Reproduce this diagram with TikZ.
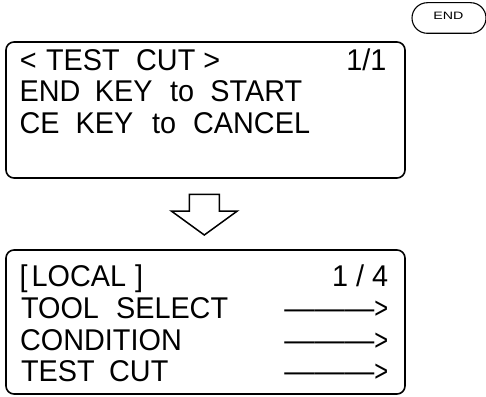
\documentclass[tikz,border=0pt]{standalone}
\usepackage{fontspec}
\setmainfont{Liberation Sans}
\usepackage{graphicx}
\newcommand{\lcdat}[2]{\makebox[0pt][l]{\hspace*{#1pt}\scalebox{0.96}[1]{#2}}}
\begin{document}
\begin{tikzpicture}[x=1pt,y=-1pt,
  panel/.style={draw, line width=1.6pt, rounded corners=8pt, inner sep=0pt},
  lcd/.style={inner sep=0pt, font=\fontsize{30}{36}\selectfont, anchor=base west},
  lcdr/.style={inner sep=0pt, font=\fontsize{30}{36}\selectfont, anchor=base east},
  keycap/.style={draw, line width=1.1pt, rounded corners=15.3pt, inner sep=0pt, minimum width=74pt, minimum height=30.6pt},
  bigarrow/.style={draw, line width=1.5pt, line join=miter}]
\useasboundingbox (0,0) rectangle (486,396);
\node[keycap] (endkey) at (449,18) {};
\node[inner sep=0pt, anchor=base] (endlbl) at (448.3,20) {\scalebox{1.33}[1]{\fontsize{10.7}{12}\selectfont END}};
\node[panel, minimum width=399pt, minimum height=136pt] (top) at (205.5,110) {};
\node[panel, minimum width=399pt, minimum height=144pt] (bottom) at (205.5,322) {};
% top panel text
\node[lcd] (t1) at (0,70) {\lcdat{19.3}{<}\lcdat{45.4}{TEST}\lcdat{135.5}{CUT}\lcdat{202.6}{>}};
\node[lcdr] (t1r) at (386.7,70) {\scalebox{0.96}[1]{1/1}};
\node[lcd] (t2) at (0,101.7) {\lcdat{19}{END}\lcdat{94.2}{KEY}\lcdat{169.5}{to}\lcdat{209.7}{START}};
\node[lcd] (t3) at (0,133.3) {\lcdat{19}{CE}\lcdat{75}{KEY}\lcdat{151.5}{to}\lcdat{192.5}{CANCEL}};
% bottom panel text
\node[lcd] (b1) at (0,286.7) {\lcdat{19}{[}\lcdat{31}{LOCAL}\lcdat{134.5}{]}};
\node[lcdr] (b1r) at (388.3,286.7) {\scalebox{0.96}[1]{1 / 4}};
\node[lcd] (b2) at (0,318.3) {\lcdat{20.4}{TOOL}\lcdat{115.4}{SELECT}};
\node[lcdr] (b2r) at (388.3,318.3) {———\scalebox{0.79}[1]{>}};
\node[lcd] (b3) at (0,350) {\lcdat{19.5}{CONDITION}};
\node[lcdr] (b3r) at (388.3,350) {———\scalebox{0.79}[1]{>}};
\node[lcd] (b4) at (0,381.7) {\lcdat{20.4}{TEST}\lcdat{108.5}{CUT}};
\node[lcdr] (b4r) at (388.3,381.7) {———\scalebox{0.79}[1]{>}};
% hollow down arrow
\coordinate (tip) at (204.3,235);
\draw[bigarrow] (189.3,194.3) -- (219.3,194.3) -- (219.3,211) -- (237.3,211) -- (tip) -- (171.3,211) -- (189.3,211) -- cycle;
\end{tikzpicture}
\end{document}
